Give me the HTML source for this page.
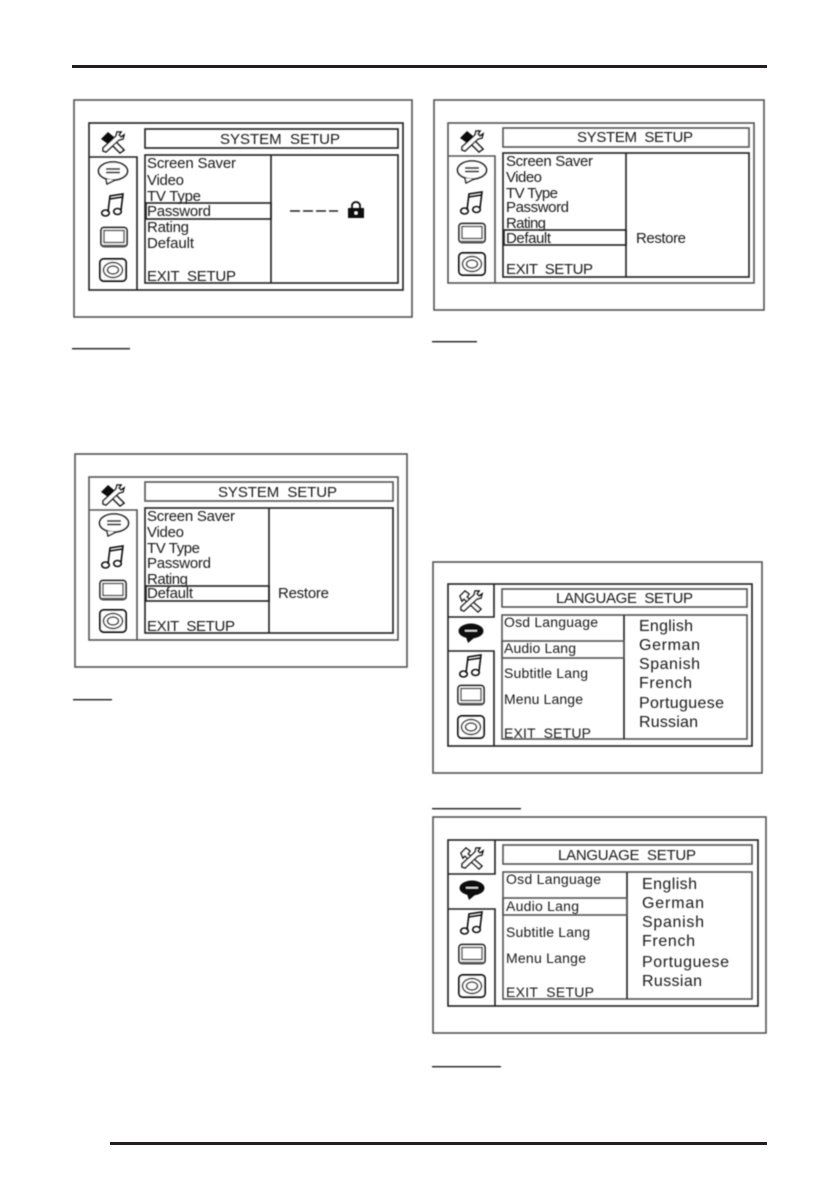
<!DOCTYPE html>
<html><head><meta charset="utf-8"><style>
html,body{margin:0;padding:0;background:#fff;width:839px;height:1191px;overflow:hidden}
svg{display:block}
text{font-family:"Liberation Sans",sans-serif;fill:#1a1a1a;font-size:15px;white-space:pre}
.b{fill:none;stroke:#222;stroke-width:1.6}
.f{fill:none;stroke:#555;stroke-width:1.6}
.l{font-size:14px}
.r{font-size:16px}
.t{font-size:15px}
</style></head><body>
<svg width="839" height="1191" viewBox="0 0 839 1191" xmlns="http://www.w3.org/2000/svg">
<defs>
<filter id="s" x="-5%" y="-5%" width="110%" height="110%"><feGaussianBlur stdDeviation="0.45"/></filter>
<g id="tools"><path d="M-11 -5 L-6 -10 L-2 -7 L-4 -4 L10 8 L7 11 L-7 -2 L-9 0 Z" fill="#fff" stroke="#111" stroke-width="1.5"/><path d="M3 -6 L-10 6 L-10 9 L-7 10 L6 -2 L10 -3 L11 -7 L8 -5 L6 -7 L8 -10 L4 -10 Z" fill="#fff" stroke="#111" stroke-width="1.5"/></g>
<g id="toolsB"><path d="M-12 -3 L-5 -10 L1 -5 L-5 2 Z" fill="#111"/><path d="M-4 0 L7 11 L11 8 L0 -3 Z" fill="#fff" stroke="#111" stroke-width="1.6"/><path d="M3 -6 L-10 6 L-10 9 L-7 10 L6 -2 L10 -3 L11 -7 L8 -5 L6 -7 L8 -10 L4 -10 Z" fill="#fff" stroke="#111" stroke-width="1.5"/></g>
<g id="sp"><ellipse cx="0" cy="-1" rx="14.5" ry="9" fill="#fff" stroke="#111" stroke-width="1.6"/><path d="M-7 7 L-6 12 L2 8" fill="#fff" stroke="#111" stroke-width="1.4"/><rect x="-7" y="-4" width="14" height="2" fill="#444"/><rect x="-7" y="-0.5" width="14" height="2" fill="#444"/></g>
<g id="spk"><ellipse cx="0" cy="-1" rx="12.5" ry="7.5" fill="#111"/><path d="M-5 5 L-3 11 L3 6 Z" fill="#111"/><rect x="-6" y="-2" width="12" height="1.6" fill="#ddd"/></g>
<g id="mu" fill="none" stroke="#111" stroke-width="1.6"><path d="M-5 7 L-3 -9 L10 -11 L8 5"/><path d="M-3.5 -6 L9.5 -8"/><ellipse cx="-7.5" cy="8" rx="3.8" ry="3"/><ellipse cx="4.5" cy="6.5" rx="3.8" ry="3"/></g>
<g id="tv"><rect x="-13" y="-9.5" width="26" height="19" rx="3" fill="#fff" stroke="#222" stroke-width="1.7"/><rect x="-10" y="-6.5" width="20" height="12" fill="#fff" stroke="#222" stroke-width="1.3"/><path d="M-12 8.5 H12" stroke="#666" stroke-width="1.8"/></g>
<g id="di"><rect x="-13" y="-11" width="26" height="22" rx="3.5" fill="#fff" stroke="#111" stroke-width="1.9"/><ellipse cx="0" cy="0" rx="9.5" ry="7.5" fill="none" stroke="#222" stroke-width="1.5"/><ellipse cx="0" cy="0" rx="5.5" ry="4" fill="none" stroke="#222" stroke-width="1.5"/></g>
</defs>

<rect x="72" y="65" width="695" height="3" fill="#231f20"/>
<rect x="110" y="1142" width="657" height="3" fill="#231f20"/>

<g filter="url(#s)">
<!-- Panel A -->
<rect class="f" x="74" y="100" width="338" height="217"/>
<rect class="b" x="89" y="123" width="314" height="167" stroke-width="2"/>
<path class="b" d="M89 157 H137 V290"/>
<rect class="b" x="145" y="129" width="253" height="19"/>
<rect class="b" x="145" y="155" width="253" height="128"/>
<path class="b" d="M271 155 V283"/>
<rect class="b" x="146" y="203" width="125" height="16"/>
<text x="220" y="144" textLength="120">SYSTEM  SETUP</text>
<text x="147" y="168" textLength="89">Screen Saver</text>
<text x="147" y="185" textLength="37">Video</text>
<text x="147" y="201" textLength="54">TV Type</text>
<text x="147" y="216" textLength="64">Password</text>
<text x="147" y="232" textLength="42">Rating</text>
<text x="147" y="248" textLength="47">Default</text>
<text x="147" y="281" textLength="89">EXIT  SETUP</text>
<path d="M290 211 H300 M303 211 H313 M316 211 H326 M329 211 H338" stroke="#222" stroke-width="1.6"/>
<rect x="348" y="208" width="16" height="10" fill="#111"/>
<path d="M352 208 V205.5 A4 3.5 0 0 1 360 205.5 V208" fill="none" stroke="#111" stroke-width="1.8"/>
<circle cx="356" cy="213" r="1.6" fill="#fff"/>
<use href="#toolsB" x="113" y="142"/><use href="#sp" x="113" y="172"/><use href="#mu" x="113" y="205"/><use href="#tv" x="114" y="237"/><use href="#di" x="113" y="270"/>
<rect x="72" y="348" width="58" height="1.4" fill="#222"/>

<!-- Panel B -->
<rect class="f" x="434" y="100" width="330" height="210"/>
<rect class="f" x="448" y="123" width="306" height="160" stroke-width="1.8"/>
<path class="f" d="M448 156 H495 V283"/>
<rect class="f" x="503" y="128" width="246" height="19"/>
<rect class="b" x="503" y="153" width="246" height="124"/>
<path class="b" d="M626 153 V277"/>
<rect class="b" x="504" y="230" width="122" height="15"/>
<text x="577" y="142" textLength="116">SYSTEM  SETUP</text>
<text x="506" y="166" textLength="87">Screen Saver</text>
<text x="506" y="182" textLength="36">Video</text>
<text x="506" y="198" textLength="52">TV Type</text>
<text x="506" y="212" textLength="63">Password</text>
<text x="506" y="228" textLength="40">Rating</text>
<text x="506" y="243" textLength="45">Default</text>
<text x="506" y="274" textLength="87">EXIT  SETUP</text>
<text x="636" y="243" textLength="50">Restore</text>
<use href="#toolsB" x="472" y="141"/><use href="#sp" x="472" y="171"/><use href="#mu" x="472" y="203"/><use href="#tv" x="472" y="233"/><use href="#di" x="472" y="264"/>
<rect x="432" y="341" width="45" height="1.4" fill="#222"/>

<!-- Panel C -->
<rect class="f" x="75" y="454" width="332" height="213"/>
<rect class="f" x="89" y="477" width="309" height="163" stroke-width="1.8"/>
<path class="f" d="M89 510 H137 V640"/>
<rect class="f" x="145" y="482" width="248" height="19"/>
<rect class="b" x="145" y="508" width="248" height="125"/>
<path class="b" d="M269 508 V633"/>
<rect class="b" x="146" y="586" width="123" height="15"/>
<text x="218" y="497" textLength="119">SYSTEM  SETUP</text>
<text x="147" y="521" textLength="88">Screen Saver</text>
<text x="147" y="537" textLength="37">Video</text>
<text x="147" y="553" textLength="53">TV Type</text>
<text x="147" y="568" textLength="64">Password</text>
<text x="147" y="584" textLength="41">Rating</text>
<text x="147" y="598" textLength="46">Default</text>
<text x="147" y="631" textLength="88">EXIT  SETUP</text>
<text x="278" y="598" textLength="51">Restore</text>
<use href="#toolsB" x="113" y="495"/><use href="#sp" x="114" y="524"/><use href="#mu" x="113" y="557"/><use href="#tv" x="113" y="590"/><use href="#di" x="113" y="621"/>
<rect x="73" y="699" width="39" height="1.4" fill="#222"/>

<!-- Panel D -->
<rect class="f" x="433" y="562" width="329" height="211"/>
<rect class="b" x="448" y="584" width="304" height="162" stroke-width="1.9"/>
<path class="b" d="M494 584 V617 H448 M448 651 H494 V746"/>
<rect class="f" x="502" y="589" width="245" height="18"/>
<rect class="f" x="502" y="615" width="245" height="124" stroke-width="1.8"/>
<path class="b" d="M624 615 V739"/>
<rect class="f" x="502" y="641" width="122" height="17"/>
<text class="t" x="556" y="603" textLength="137">LANGUAGE  SETUP</text>
<text class="l" x="504" y="627" textLength="94">Osd Language</text>
<text class="l" x="504" y="653" textLength="72">Audio Lang</text>
<text class="l" x="504" y="678" textLength="84">Subtitle Lang</text>
<text class="l" x="504" y="704" textLength="79">Menu Lange</text>
<text class="l" x="504" y="738" textLength="87">EXIT  SETUP</text>
<text class="r" x="639" y="631" textLength="54">English</text>
<text class="r" x="639" y="650" textLength="61">German</text>
<text class="r" x="639" y="669" textLength="61">Spanish</text>
<text class="r" x="639" y="688" textLength="53">French</text>
<text class="r" x="639" y="708" textLength="85">Portuguese</text>
<text class="r" x="639" y="727" textLength="59">Russian</text>
<use href="#tools" x="471" y="601"/><use href="#spk" x="471" y="632"/><use href="#mu" x="471" y="666"/><use href="#tv" x="471" y="695"/><use href="#di" x="471" y="727"/>
<rect x="432" y="808" width="89" height="1.4" fill="#222"/>

<!-- Panel E -->
<rect class="f" x="433" y="817" width="333" height="216"/>
<rect class="b" x="448" y="840" width="310" height="166" stroke-width="1.9"/>
<path class="b" d="M495 840 V874 H448 M448 909 H495 V1006"/>
<rect class="f" x="503" y="845" width="249" height="19"/>
<rect class="f" x="503" y="872" width="249" height="127" stroke-width="1.8"/>
<path class="b" d="M627 872 V999"/>
<rect class="f" x="503" y="898" width="124" height="17"/>
<text class="t" x="558" y="860" textLength="138">LANGUAGE  SETUP</text>
<text class="l" x="506" y="884" textLength="95">Osd Language</text>
<text class="l" x="506" y="911" textLength="73">Audio Lang</text>
<text class="l" x="506" y="937" textLength="84">Subtitle Lang</text>
<text class="l" x="506" y="963" textLength="80">Menu Lange</text>
<text class="l" x="506" y="997" textLength="88">EXIT  SETUP</text>
<text class="r" x="642" y="889" textLength="55">English</text>
<text class="r" x="642" y="908" textLength="62">German</text>
<text class="r" x="642" y="927" textLength="62">Spanish</text>
<text class="r" x="642" y="946" textLength="53">French</text>
<text class="r" x="642" y="967" textLength="87">Portuguese</text>
<text class="r" x="642" y="986" textLength="60">Russian</text>
<use href="#tools" x="472" y="858"/><use href="#spk" x="472" y="889"/><use href="#mu" x="472" y="923"/><use href="#tv" x="472" y="954"/><use href="#di" x="472" y="986"/>
<rect x="432" y="1066" width="69" height="1.4" fill="#222"/>
</g>
</svg>
</body></html>
